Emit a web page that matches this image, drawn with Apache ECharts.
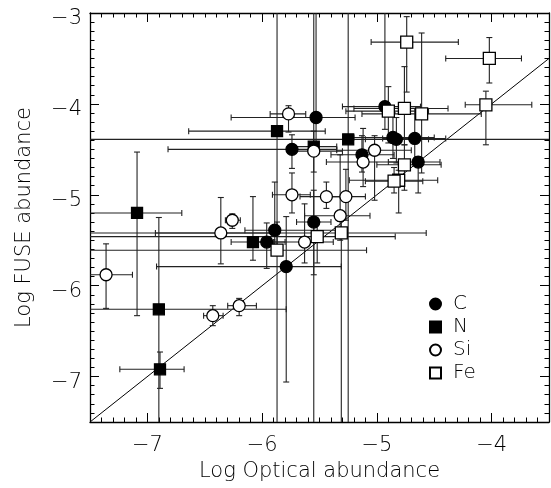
<!DOCTYPE html>
<html>
<head>
<meta charset="utf-8">
<script src="https://cdn.jsdelivr.net/npm/echarts@6/dist/echarts.min.js"></script>
<style>
  html, body { margin: 0; padding: 0; background: #fff; }
  #chart { width: 551px; height: 488px; }
</style>
</head>
<body>
<div id="chart"></div>
<script>
// Abundances: [logOptical, logFUSE, xLow, xHigh, yLow, yHigh]
const carbon = [
  [-4.93, -4.03, -5.30, -4.62, -4.28, -2.50],
  [-5.53, -4.15, -6.27, -5.19, -4.45, -2.50],
  [-5.74, -4.50, -6.82, -5.35, -4.71, -4.34],
  [-4.86, -4.37, -5.20, -4.50, -4.60, -4.10],
  [-4.83, -4.39, -5.10, -4.55, -4.65, -4.15],
  [-4.67, -4.38, -4.95, -4.40, -4.62, -4.05],
  [-5.13, -4.56, -5.40, -4.85, -4.75, -4.35],
  [-4.64, -4.64, -4.90, -4.45, -4.98, -4.58],
  [-5.55, -5.30, -5.70, -5.40, -5.88, -4.95],
  [-5.89, -5.39, -6.15, -5.30, -5.60, -4.86],
  [-5.96, -5.52, -6.10, -5.80, -5.81, -5.31],
  [-5.79, -5.79, -6.92, -5.31, -7.06, -5.24]
];
const nitrogen = [
  [-5.87, -4.30, -6.64, -5.45, -5.60, -2.50],
  [-5.25, -4.39, -7.60, -3.40, -8.00, -2.50],
  [-5.55, -4.47, -5.75, -5.35, -8.00, -2.50],
  [-7.09, -5.20, -7.60, -6.70, -6.33, -4.53],
  [-6.08, -5.52, -6.27, -5.89, -5.72, -5.02],
  [-6.90, -6.26, -7.60, -5.79, -8.00, -5.25],
  [-6.89, -6.92, -7.24, -6.68, -7.13, -6.73]
];
const silicon = [
  [-5.77, -4.11, -5.93, -5.62, -4.31, -4.02],
  [-5.55, -4.52, -5.75, -5.30, -4.75, -4.30],
  [-5.02, -4.51, -5.35, -4.70, -5.06, -4.35],
  [-5.12, -4.64, -5.44, -4.80, -4.91, -4.27],
  [-5.74, -5.00, -5.91, -5.58, -5.20, -4.76],
  [-5.44, -5.02, -5.67, -5.25, -5.15, -4.86],
  [-5.27, -5.02, -5.45, -5.10, -5.28, -4.72],
  [-5.32, -5.23, -5.63, -5.06, -5.50, -4.56],
  [-6.26, -5.28, -6.32, -6.19, -5.37, -5.21],
  [-6.36, -5.42, -6.93, -5.90, -5.76, -5.03],
  [-5.63, -5.52, -5.90, -5.38, -5.75, -5.10],
  [-7.36, -5.88, -7.60, -7.13, -6.25, -5.54],
  [-6.43, -6.33, -6.51, -6.34, -6.44, -6.22],
  [-6.20, -6.22, -6.30, -6.05, -6.33, -6.14]
];
const iron = [
  [-4.74, -3.32, -5.05, -4.29, -3.87, -3.04],
  [-4.02, -3.50, -4.40, -3.74, -3.77, -3.27],
  [-4.05, -4.01, -4.23, -3.65, -4.45, -3.86],
  [-4.90, -4.08, -5.27, -4.55, -4.43, -3.81],
  [-4.76, -4.05, -5.20, -4.38, -4.45, -3.59],
  [-4.61, -4.11, -5.13, -4.09, -4.76, -3.22],
  [-4.76, -4.67, -5.00, -4.44, -4.95, -4.45],
  [-4.81, -4.84, -5.24, -4.47, -5.20, -4.73],
  [-4.85, -4.85, -5.10, -4.60, -4.98, -4.70],
  [-5.31, -5.42, -7.60, -4.57, -8.00, -5.20],
  [-5.52, -5.46, -7.60, -4.84, -5.75, -5.30],
  [-5.87, -5.61, -7.60, -5.09, -8.00, -5.30]
];

// Axis ranges and labelled tick values
const xRange = [-7.5, -3.5];
const yRange = [-7.5, -3];
const xMajorTicks = [-7, -6, -5, -4];
const yMajorTicks = [-7, -6, -5, -4, -3];
// One-to-one reference line
const identityLine = [[-7.5, -7.5], [-3.5, -3.5]];

const FONT = 'DejaVu Sans';
const WEIGHT = 200;
const INK = '#000';

function minusLabel(v) {
  return v < 0 ? '\u2212' + Math.abs(v) : String(v);
}

// Each dimension gets a minor-tick axis (every 0.1) and a major-tick axis per side
function buildAxes(range, majors, sides, labelSide, labelOpts) {
  const axes = [];
  sides.forEach(function (side) {
    axes.push({
      type: 'value', position: side, min: range[0], max: range[1], interval: 0.1,
      axisLine: { show: true, onZero: false, lineStyle: { color: INK, width: 1.3 } },
      axisTick: { show: true, inside: true, length: 4.5, lineStyle: { color: INK, width: 1 } },
      axisLabel: side === labelSide ? Object.assign({
        show: true, customValues: majors, formatter: minusLabel,
        color: INK, fontFamily: FONT, fontWeight: WEIGHT, fontSize: 21
      }, labelOpts) : { show: false },
      splitLine: { show: false }
    });
    axes.push({
      type: 'value', position: side, min: range[0], max: range[1], interval: 0.1,
      axisLine: { show: false, onZero: false },
      axisTick: { show: true, inside: true, length: 9, customValues: majors, lineStyle: { color: INK, width: 1 } },
      axisLabel: { show: false },
      splitLine: { show: false }
    });
  });
  return axes;
}

const xAxes = buildAxes(xRange, xMajorTicks, ['bottom', 'top'], 'bottom', { margin: 13 });
xAxes[0].name = 'Log Optical abundance';
xAxes[0].nameLocation = 'middle';
xAxes[0].nameGap = 38;
xAxes[0].nameTextStyle = { color: INK, fontFamily: FONT, fontWeight: WEIGHT, fontSize: 21 };

const yAxes = buildAxes(yRange, yMajorTicks, ['left', 'right'], 'left',
  { margin: 8, verticalAlign: 'top', lineHeight: 12 });
yAxes[0].name = 'Log FUSE abundance';
yAxes[0].nameLocation = 'middle';
yAxes[0].nameGap = 55;
yAxes[0].nameTextStyle = { color: INK, fontFamily: FONT, fontWeight: WEIGHT, fontSize: 21 };

function errorBars(params, api) {
  const cs = params.coordSys;
  const L = cs.x, R = cs.x + cs.width, T = cs.y, B = cs.y + cs.height;
  const x = api.value(0), y = api.value(1);
  const c = api.coord([x, y]);
  const xl = api.coord([api.value(2), y])[0];
  const xh = api.coord([api.value(3), y])[0];
  const yl = api.coord([x, api.value(4)])[1];
  const yh = api.coord([x, api.value(5)])[1];
  const clamp = function (v, a, b) { return Math.min(Math.max(v, a), b); };
  const style = { stroke: '#222', lineWidth: 1.1, fill: null };
  const cap = 3;
  const kids = [];
  const ax1 = clamp(xl, L, R), ax2 = clamp(xh, L, R);
  kids.push({ type: 'line', shape: { x1: ax1, y1: c[1], x2: ax2, y2: c[1] }, style: style });
  if (xl >= L) kids.push({ type: 'line', shape: { x1: xl, y1: c[1] - cap, x2: xl, y2: c[1] + cap }, style: style });
  if (xh <= R) kids.push({ type: 'line', shape: { x1: xh, y1: c[1] - cap, x2: xh, y2: c[1] + cap }, style: style });
  const ay1 = clamp(yl, T, B), ay2 = clamp(yh, T, B);
  kids.push({ type: 'line', shape: { x1: c[0], y1: ay1, x2: c[0], y2: ay2 }, style: style });
  if (yl <= B) kids.push({ type: 'line', shape: { x1: c[0] - cap, y1: yl, x2: c[0] + cap, y2: yl }, style: style });
  if (yh >= T) kids.push({ type: 'line', shape: { x1: c[0] - cap, y1: yh, x2: c[0] + cap, y2: yh }, style: style });
  return { type: 'group', children: kids };
}

const elements = [
  { name: 'C',  rows: carbon,   symbol: 'circle', size: 12, fill: '#000' },
  { name: 'N',  rows: nitrogen, symbol: 'rect',   size: 11, fill: '#000' },
  { name: 'Si', rows: silicon,  symbol: 'circle', size: 12, fill: '#fff' },
  { name: 'Fe', rows: iron,     symbol: 'rect',   size: 12, fill: '#fff' }
];

const series = [{
  type: 'line', data: identityLine, symbol: 'none', silent: true,
  lineStyle: { color: INK, width: 1 }, z: 1
}];
elements.forEach(function (el) {
  series.push({
    type: 'custom', name: el.name + ' errors', renderItem: errorBars,
    data: el.rows, encode: { x: 0, y: 1 }, z: 2, silent: true
  });
});
elements.forEach(function (el) {
  series.push({
    type: 'scatter', name: el.name, symbol: el.symbol, symbolSize: el.size,
    data: el.rows.map(function (r) { return [r[0], r[1]]; }),
    itemStyle: { color: el.fill, borderColor: INK, borderWidth: 1.3, opacity: 1 },
    z: 3
  });
});

const chart = echarts.init(document.getElementById('chart'), null, { renderer: 'canvas' });
chart.setOption({
  animation: false,
  backgroundColor: '#fff',
  grid: { left: 90, right: 2, top: 13, bottom: 66 },
  xAxis: xAxes,
  yAxis: yAxes,
  legend: {
    data: elements.map(function (e) { return e.name; }),
    orient: 'vertical', left: 424, top: 288,
    itemWidth: 11, itemHeight: 11, itemGap: 1,
    textStyle: { color: INK, fontFamily: FONT, fontWeight: WEIGHT, fontSize: 20, lineHeight: 22, padding: [0, 0, 0, 7] },
    selectedMode: false
  },
  series: series
});
</script>
</body>
</html>
